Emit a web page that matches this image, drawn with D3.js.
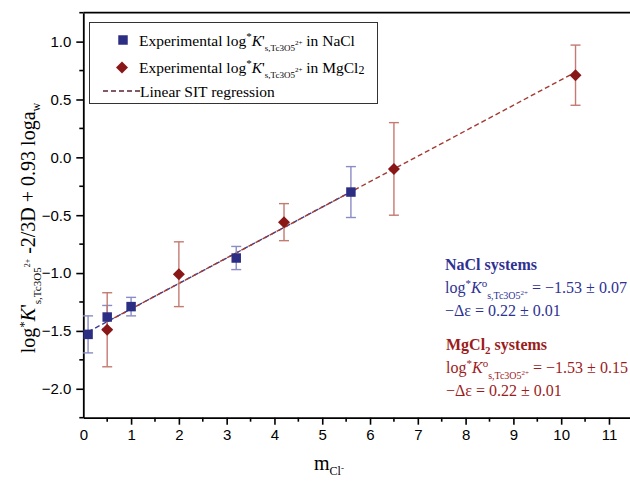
<!DOCTYPE html>
<html><head><meta charset="utf-8">
<script src="https://cdn.jsdelivr.net/npm/d3@7"></script>
<style>body{margin:0;background:#fff}svg{display:block}</style>
</head><body>
<svg id="c" width="630" height="481"></svg>
<script>
// ---- data ----
const naclX = [0.1, 0.5, 1.0, 3.2, 5.6];
const naclY = [-1.53, -1.38, -1.29, -0.87, -0.30];
const naclErr = [0.16, 0.10, 0.08, 0.10, 0.22];
const mgX = [0.5, 2.0, 4.2, 6.5, 10.3];
const mgY = [-1.49, -1.01, -0.56, -0.10, 0.71];
const mgErr = [0.32, 0.28, 0.16, 0.40, 0.26];
const fitIntercept = -1.53, fitSlope = 0.22;
const naclFitRange = [0.1, 5.6];
const mgFitRange = [0.5, 10.3];
const xTicks = [0,1,2,3,4,5,6,7,8,9,10,11];
const yTicks = [-2.0,-1.5,-1.0,-0.5,0.0,0.5,1.0];

const BLUE = "#2b2e83", BLUE_ERR = "#8a8cc4", RED = "#8a1717", RED_ERR = "#c47a70";
const svg = d3.select("#c");
const L = 83.3, R = 630, T = 12.7, B = 417.7;
const x = d3.scaleLinear().domain([0, 11.44]).range([L, R]);
const y = d3.scaleLinear().domain([-2.25, 1.25]).range([B, T]);
const serif = "'Liberation Serif','Times New Roman',serif";
const sans = "'Liberation Sans',Arial,sans-serif";

// axes
const xAxis = d3.axisBottom(x).tickValues(xTicks).tickFormat(d3.format("d")).tickSize(7).tickSizeOuter(0).tickPadding(5);
const gx = svg.append("g").attr("transform",`translate(0,${B})`).call(xAxis);
gx.selectAll(".tick").filter(d=>d===0).select("line").remove();
const xMinor = d3.range(0.5, 11.44, 1);
gx.selectAll(".minor").data(xMinor).enter().append("line")
  .attr("x1",d=>x(d)).attr("x2",d=>x(d)).attr("y1",0).attr("y2",4).attr("stroke","#000").attr("stroke-width",1.6);
const yAxis = d3.axisLeft(y).tickValues(yTicks).tickFormat(d3.format(".1f")).tickSize(7).tickSizeOuter(0).tickPadding(5);
const gy = svg.append("g").attr("transform",`translate(${L},0)`).call(yAxis);
const yMinor = d3.range(-2.25, 1.26, 0.5);
gy.selectAll(".minor").data(yMinor).enter().append("line")
  .attr("y1",d=>y(d)).attr("y2",d=>y(d)).attr("x1",0).attr("x2",-4).attr("stroke","#000").attr("stroke-width",1.6);
svg.selectAll(".domain").attr("stroke","#000").attr("stroke-width",1.8);
svg.selectAll(".tick line").attr("stroke","#000").attr("stroke-width",1.6);
svg.selectAll(".tick text").attr("font-family",sans).attr("font-size",15).attr("fill","#000");
svg.append("line").attr("x1",L).attr("x2",R).attr("y1",T).attr("y2",T).attr("stroke","#000").attr("stroke-width",1.8);

// rich text helper
function rich(sel, segs, size){
  let cur = 0;
  segs.forEach(s=>{
    const sh = s.sh||0; const dy = (sh - cur);
    cur = sh;
    sel.append("tspan").text(s.t)
      .attr("dy", dy? dy : null)
      .attr("dx", s.dx||null)
      .attr("font-size", s.fs||size)
      .attr("font-style", s.i?"italic":null);
  });
}

// regression lines
const fit = v => fitIntercept + fitSlope*v;
const line = d3.line().x(d=>x(d)).y(d=>y(fit(d)));
svg.append("path").attr("d", line(naclFitRange)).attr("fill","none").attr("stroke","#3a3d93").attr("stroke-width",1.4).attr("stroke-dasharray","5,3");
svg.append("path").attr("d", line(mgFitRange)).attr("fill","none").attr("stroke","#a23a32").attr("stroke-width",1.4).attr("stroke-dasharray","5,3");

// error bars
function errBars(xs, ys, es, col){
  const g = svg.append("g").attr("stroke",col).attr("stroke-width",1.4);
  xs.forEach((xv,i)=>{
    const cx = x(xv), y1 = y(ys[i]+es[i]), y2 = y(ys[i]-es[i]);
    g.append("line").attr("x1",cx).attr("x2",cx).attr("y1",y1).attr("y2",y2);
    g.append("line").attr("x1",cx-5).attr("x2",cx+5).attr("y1",y1).attr("y2",y1);
    g.append("line").attr("x1",cx-5).attr("x2",cx+5).attr("y1",y2).attr("y2",y2);
  });
}
errBars(naclX, naclY, naclErr, BLUE_ERR);
errBars(mgX, mgY, mgErr, RED_ERR);

const sq = d3.symbol().type(d3.symbolSquare).size(90);
const dm = d3.symbol().type(d3.symbolSquare).size(72);
svg.selectAll(".sq").data(naclX).enter().append("path").attr("d",sq())
  .attr("transform",(d,i)=>`translate(${x(d)},${y(naclY[i])})`).attr("fill",BLUE);
svg.selectAll(".dm").data(mgX).enter().append("path").attr("d",dm())
  .attr("transform",(d,i)=>`translate(${x(d)},${y(mgY[i])}) rotate(45)`).attr("fill",RED);

// legend
svg.append("rect").attr("x",89.5).attr("y",22.5).attr("width",288).attr("height",81).attr("fill","#fff").attr("stroke","#333").attr("stroke-width",1);
svg.append("path").attr("d",sq()).attr("transform","translate(123,40)").attr("fill",BLUE);
svg.append("path").attr("d",dm()).attr("transform","translate(122,67.5) rotate(45)").attr("fill",RED);
svg.append("line").attr("x1",103).attr("x2",140).attr("y1",91).attr("y2",91).attr("stroke","#5a2535").attr("stroke-width",1.4).attr("stroke-dasharray","5,3");
const kSegs = (tail, tailSub) => {
  const a = [
    {t:"Experimental log"},{t:"*",sh:-6,fs:11},{t:"K",i:1,sh:0},{t:"'"},
    {t:"s,Tc3O5",sh:5,fs:9},{t:"2+",sh:-1,fs:7},{t:tail,sh:0}
  ];
  if (tailSub) a.push({t:tailSub,sh:1,fs:12});
  return a;
};
rich(svg.append("text").attr("x",139).attr("y",46).attr("font-family",serif).attr("fill","#000"), kSegs("  in NaCl"), 15.5);
rich(svg.append("text").attr("x",139).attr("y",73).attr("font-family",serif).attr("fill","#000"), kSegs("  in MgCl","2"), 15.5);
svg.append("text").attr("x",140).attr("y",97).attr("font-family",serif).attr("font-size",15.5).text("Linear SIT regression");

// annotations
function eqBlock(x0, y0, col, title, titleSub, errStr){
  const t = svg.append("text").attr("x",x0).attr("y",y0).attr("font-family",serif).attr("font-weight","bold").attr("fill",col);
  rich(t, titleSub ? [{t:title},{t:titleSub,sh:4,fs:11},{t:" systems",sh:0}] : [{t:title+" systems"}], 16);
  const t2 = svg.append("text").attr("x",x0).attr("y",y0+23).attr("font-family",serif).attr("fill",col);
  rich(t2, [{t:"log"},{t:"*",sh:-6,fs:11},{t:"K",i:1,sh:0},{t:"o",sh:-6,fs:11},
    {t:"s,Tc3O5",sh:6,fs:10},{t:"2+",sh:2,fs:7},{t:" = −1.53 ± "+errStr,sh:0}], 16);
  svg.append("text").attr("x",x0).attr("y",y0+46).attr("font-family",serif).attr("font-size",16).attr("fill",col).text("−Δε = 0.22 ± 0.01");
}
eqBlock(445, 270, "#2e3192", "NaCl", null, "0.07");
eqBlock(446, 350, "#9b1c1c", "MgCl", "2", "0.15");

// axis titles
const xt = svg.append("text").attr("x",314).attr("y",470).attr("font-family",serif).attr("fill","#000");
rich(xt, [{t:"m"},{t:"Cl",sh:5,fs:12},{t:"-",sh:1,fs:9}], 20);
const yt = svg.append("text").attr("transform","translate(35,228) rotate(-90)").attr("text-anchor","middle").attr("font-family",serif).attr("fill","#000");
rich(yt, [{t:"log"},{t:"*",sh:-7,fs:13},{t:"K",i:1,sh:0},{t:"'"},{t:"s,Tc3O5",sh:6,fs:11},{t:"2+",sh:-5,fs:8},
  {t:" -2/3D + 0.93 loga",sh:0},{t:"w",sh:5,fs:12}], 20);
</script>
</body></html>
